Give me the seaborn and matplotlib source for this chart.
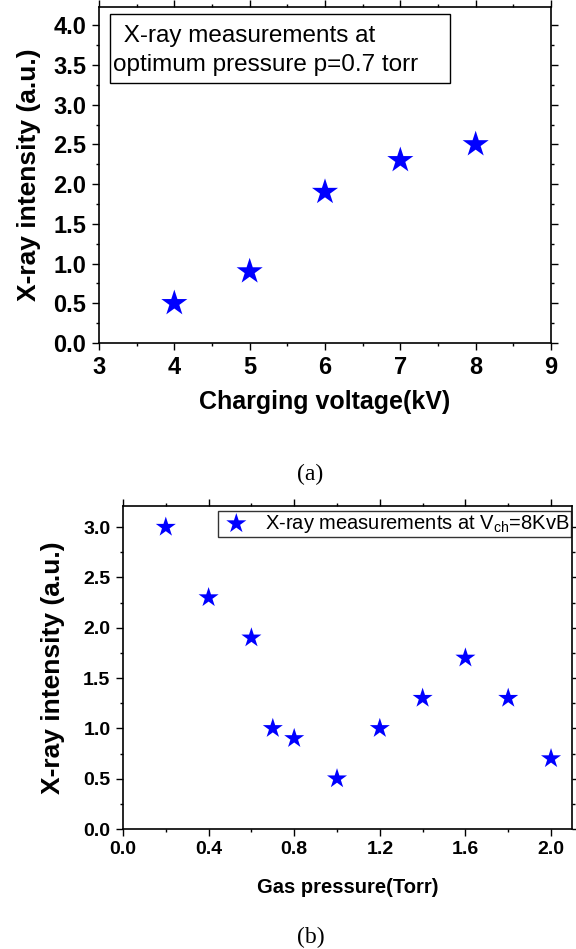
import matplotlib
matplotlib.use("Agg")
import matplotlib.pyplot as plt
from matplotlib.ticker import MultipleLocator, FormatStrFormatter
from matplotlib.patches import Rectangle
import seaborn as sns
import pandas as pd

# ---- data ----
voltage_kv = [4, 5, 6, 7, 8]
intensity_a = [0.5, 0.9, 1.9, 2.3, 2.5]

pressure_torr = [0.2, 0.4, 0.6, 0.7, 0.8, 1.0, 1.2, 1.4, 1.6, 1.8, 2.0]
intensity_b = [3.0, 2.3, 1.9, 1.0, 0.9, 0.5, 1.0, 1.3, 1.7, 1.3, 0.7]

box_lines_a = [" X-ray measurements at", "optimum pressure p=0.7 torr"]
legend_b = r"X-ray measurements at V$_{\mathregular{ch}}$=8KvB"

sns.set_theme(style="ticks")
plt.rcParams['font.family'] = ['Liberation Sans', 'DejaVu Sans']
plt.rcParams['mathtext.fontset'] = 'custom'
plt.rcParams['mathtext.rm'] = 'Liberation Sans'
for k in ["text.color", "axes.labelcolor", "xtick.color", "ytick.color",
          "xtick.labelcolor", "ytick.labelcolor"]:
    plt.rcParams[k] = "black"

W, H = 576, 949
fig = plt.figure(figsize=(W / 100, H / 100), dpi=100)
fig.patch.set_facecolor("white")


def px_axes(l, t, r, b):
    return fig.add_axes([l / W, 1 - b / H, (r - l) / W, (b - t) / H])


def style_axes(ax, tick_fs):
    for s in ax.spines.values():
        s.set_color("black")
        s.set_linewidth(1.2)
        s.set_visible(True)
    ax.tick_params(which="both", direction="out", top=True, right=True,
                   labeltop=False, labelright=False, color="black", width=1.0,
                   labelcolor="black")
    ax.tick_params(which="major", length=5, labelsize=tick_fs, pad=4)
    ax.tick_params(which="minor", length=2.5)
    for lab in ax.get_xticklabels() + ax.get_yticklabels():
        lab.set_fontweight("bold")
    ax.set_facecolor("white")
    ax.grid(False)


# ---- panel (a) ----
dfa = pd.DataFrame({"v": voltage_kv, "i": intensity_a})
ax1 = px_axes(99, 7, 551, 343)
sns.scatterplot(data=dfa, x="v", y="i", marker="*", s=390, color="#0000FF",
                edgecolor="none", ax=ax1, legend=False, zorder=3)
ax1.set_xlim(3, 9)
ax1.set_ylim(0, 4.23)
ax1.xaxis.set_major_locator(MultipleLocator(1))
ax1.xaxis.set_minor_locator(MultipleLocator(0.5))
ax1.yaxis.set_major_locator(MultipleLocator(0.5))
ax1.yaxis.set_minor_locator(MultipleLocator(0.25))
ax1.yaxis.set_major_formatter(FormatStrFormatter("%.1f"))
ax1.xaxis.set_major_formatter(FormatStrFormatter("%d"))
style_axes(ax1, 17)
ax1.set_xlabel("Charging voltage(kV)", fontsize=18, fontweight="bold", labelpad=8)
ax1.set_ylabel("X-ray intensity (a.u.)", fontsize=19, fontweight="bold", labelpad=9)

ax1.add_patch(Rectangle((0.024, 0.774), 0.753, 0.205, transform=ax1.transAxes,
                        facecolor="white", edgecolor="black", linewidth=1.0, zorder=4))
ax1.text(0.04, 0.915, box_lines_a[0], transform=ax1.transAxes, fontsize=17.5,
         va="center", ha="left", zorder=5)
ax1.text(0.031, 0.826, box_lines_a[1], transform=ax1.transAxes, fontsize=17.5,
         va="center", ha="left", zorder=5)

fig.text(310 / W, 1 - 474 / H, "(a)", fontsize=17, family="Liberation Serif",
         ha="center", va="center")

# ---- panel (b) ----
dfb = pd.DataFrame({"p": pressure_torr, "i": intensity_b})
ax2 = px_axes(123, 506, 572, 829)
sns.scatterplot(data=dfb, x="p", y="i", marker="*", s=230, color="#0000FF",
                edgecolor="none", ax=ax2, label=legend_b, zorder=3)
ax2.set_xlim(0, 2.098)
ax2.set_ylim(0, 3.21)
ax2.xaxis.set_major_locator(MultipleLocator(0.4))
ax2.xaxis.set_minor_locator(MultipleLocator(0.2))
ax2.yaxis.set_major_locator(MultipleLocator(0.5))
ax2.yaxis.set_minor_locator(MultipleLocator(0.25))
ax2.yaxis.set_major_formatter(FormatStrFormatter("%.1f"))
ax2.xaxis.set_major_formatter(FormatStrFormatter("%.1f"))
style_axes(ax2, 14)
ax2.set_xlabel("Gas pressure(Torr)", fontsize=14.5, fontweight="bold", labelpad=14)
ax2.set_ylabel("X-ray intensity (a.u.)", fontsize=19, fontweight="bold", labelpad=13)

leg = ax2.legend(loc="upper right", bbox_to_anchor=(0.998, 0.985), borderaxespad=0,
                 frameon=True, fancybox=False, fontsize=14.5, handletextpad=0.6,
                 borderpad=0.1, handlelength=1.6, markerscale=1.0)
leg.get_frame().set_edgecolor("black")
leg.get_frame().set_linewidth(1.0)

fig.text(311 / W, 1 - 937 / H, "(b)", fontsize=17, family="Liberation Serif",
         ha="center", va="center")

fig.savefig("out.png", dpi=100, facecolor="white")
